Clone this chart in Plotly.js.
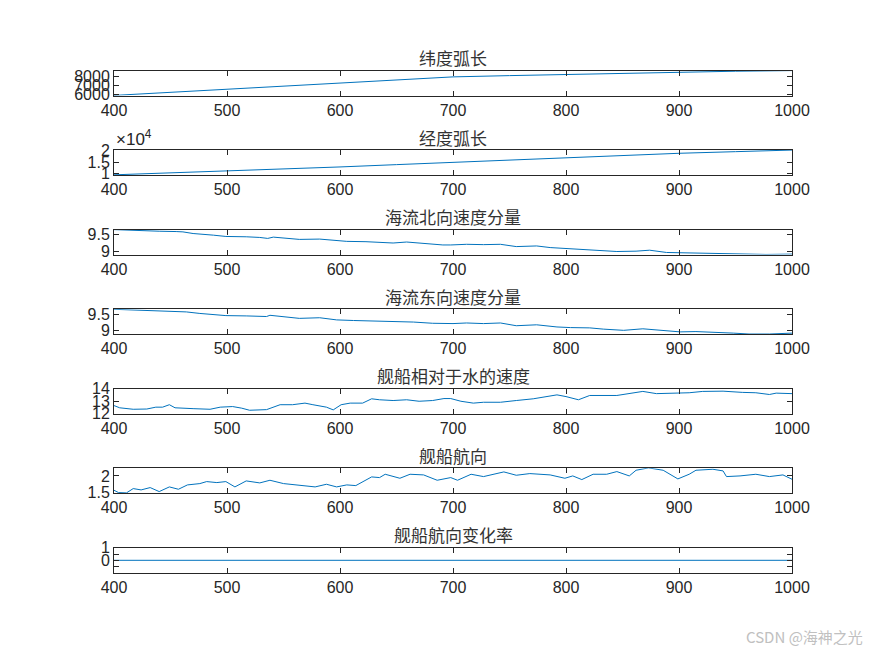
<!DOCTYPE html>
<html>
<head>
<meta charset="utf-8">
<script src="https://cdn.plot.ly/plotly-2.35.2.min.js"></script>
<style>html,body{margin:0;padding:0;background:#fff;}#chart{width:875px;height:656px;}</style>
</head>
<body>
<div id="chart"></div>
<script>
// ---- data ----
const titles = ["纬度弧长", "经度弧长", "海流北向速度分量", "海流东向速度分量", "舰船相对于水的速度", "舰船航向", "舰船航向变化率"];

const latX = [400, 450, 500, 550, 600, 620, 650, 700, 750, 800, 850, 900, 950, 1000];
const latY = [5890, 6230, 6580, 6950, 7300, 7450, 7650, 7920, 8060, 8200, 8330, 8460, 8540, 8610];

const lonX = [400, 450, 500, 550, 600, 650, 700, 750, 800, 850, 900, 950, 1000];
const lonY = [9600, 10400, 11200, 12100, 13000, 14000, 15000, 16100, 17100, 18000, 18900, 19600, 20300];

const northX = [400, 411, 426, 440, 455, 461, 470, 479, 488, 499, 508, 517, 529, 536, 541, 553, 564, 582, 597, 606, 623, 635, 647, 659, 670, 679, 691, 698, 712, 727, 742, 756, 774, 786, 800, 815, 827, 845, 862, 874, 889, 904, 921, 939, 956, 977, 1000];
const northY = [9.66, 9.64, 9.62, 9.61, 9.60, 9.59, 9.54, 9.52, 9.49, 9.45, 9.45, 9.44, 9.42, 9.39, 9.43, 9.40, 9.36, 9.37, 9.32, 9.30, 9.29, 9.27, 9.25, 9.28, 9.25, 9.21, 9.19, 9.19, 9.21, 9.20, 9.21, 9.14, 9.16, 9.11, 9.08, 9.07, 9.03, 8.99, 9.00, 9.03, 8.96, 8.95, 8.94, 8.93, 8.90, 8.90, 8.91];

const eastX = [400, 426, 455, 464, 476, 488, 499, 517, 535, 538, 547, 564, 582, 597, 612, 635, 647, 665, 682, 700, 712, 727, 742, 756, 774, 792, 804, 821, 833, 851, 868, 886, 901, 915, 933, 948, 962, 980, 1000];
const eastY = [9.675, 9.65, 9.62, 9.59, 9.54, 9.51, 9.47, 9.46, 9.44, 9.48, 9.45, 9.38, 9.40, 9.33, 9.31, 9.29, 9.26, 9.26, 9.22, 9.21, 9.23, 9.21, 9.23, 9.14, 9.17, 9.10, 9.08, 9.07, 9.03, 8.99, 9.04, 8.98, 8.94, 8.95, 8.93, 8.90, 8.87, 8.87, 8.90];

const speedX = [400, 405, 417, 429, 437, 443, 449, 454, 470, 485, 494, 505, 513, 520, 535, 547, 558, 569, 576, 588, 594, 601, 609, 620, 628, 635, 647, 659, 670, 682, 692, 698, 707, 718, 727, 742, 756, 771, 792, 800, 811, 821, 845, 868, 880, 898, 909, 921, 939, 956, 968, 980, 986, 1000];
const speedY = [12.63, 12.45, 12.33, 12.35, 12.50, 12.50, 12.70, 12.45, 12.38, 12.33, 12.50, 12.55, 12.42, 12.25, 12.30, 12.70, 12.70, 12.83, 12.70, 12.50, 12.28, 12.70, 12.83, 12.83, 13.18, 13.10, 13.04, 13.10, 12.98, 13.04, 13.20, 13.20, 12.98, 12.83, 12.90, 12.90, 13.04, 13.18, 13.50, 13.36, 13.10, 13.45, 13.45, 13.78, 13.60, 13.67, 13.67, 13.78, 13.80, 13.70, 13.67, 13.53, 13.64, 13.60];

const headX = [400, 404, 411, 417, 424, 432, 440, 449, 457, 465, 476, 482, 491, 499, 507, 517, 529, 538, 550, 564, 578, 588, 597, 606, 614, 628, 635, 640, 653, 662, 674, 686, 698, 704, 716, 727, 745, 756, 768, 777, 786, 799, 806, 814, 824, 836, 845, 856, 862, 873, 886, 899, 909, 915, 930, 939, 942, 954, 968, 980, 992, 1000];
const headY = [1.57, 1.50, 1.49, 1.62, 1.58, 1.65, 1.53, 1.67, 1.60, 1.73, 1.77, 1.83, 1.80, 1.83, 1.67, 1.85, 1.79, 1.87, 1.77, 1.73, 1.67, 1.75, 1.67, 1.73, 1.71, 1.97, 1.95, 2.05, 1.93, 2.05, 2.03, 1.87, 1.95, 1.87, 2.05, 1.98, 2.12, 2.02, 2.07, 2.05, 2.03, 1.93, 2.00, 1.89, 2.05, 2.05, 2.13, 2.00, 2.17, 2.24, 2.17, 1.91, 2.05, 2.17, 2.20, 2.15, 1.98, 2.00, 2.05, 1.98, 2.03, 1.90];

const rateX = [400, 1000];
const rateY = [0, 0];

const xTicks = [400, 500, 600, 700, 800, 900, 1000];

const series = [[latX, latY], [lonX, lonY], [northX, northY], [eastX, eastY], [speedX, speedY], [headX, headY], [rateX, rateY]];
const yRanges = [[5880, 8620], [9500, 20300], [8.895, 9.66], [8.866, 9.68], [11.97, 14.0], [1.48, 2.23], [-1, 1]];
const yTickVals = [[6000, 7000, 8000], [10000, 15000, 20000], [9, 9.5], [9, 9.5], [12, 13, 14], [1.5, 2], [0, 1]];
const yTickText = [["6000", "7000", "8000"], ["1", "1.5", "2"], ["9", "9.5"], ["9", "9.5"], ["12", "13", "14"], ["1.5", "2"], ["0", "1"]];
const rateMinorTicks = [-0.5, 0.5];

// ---- layout ----
const H = 656;
const axCol = '#262626';
const tickFont = {family: 'Liberation Sans, Arial, sans-serif', size: 16, color: axCol};
const traces = [];
const layout = {
  width: 875, height: 656,
  margin: {l: 114, r: 83, t: 0, b: 0},
  paper_bgcolor: '#fff', plot_bgcolor: '#fff',
  showlegend: false,
  annotations: []
};
for (let i = 0; i < 7; i++) {
  const top = 70.5 + 79.55 * i;
  const bot = top + 25;
  const sfx = i === 0 ? '' : String(i + 1);
  traces.push({
    x: series[i][0], y: series[i][1], type: 'scatter', mode: 'lines',
    line: {color: '#0072BD', width: 1},
    xaxis: 'x' + sfx, yaxis: 'y' + sfx, hoverinfo: 'skip'
  });
  layout['xaxis' + sfx] = {
    domain: [0, 1], anchor: 'y' + sfx, range: [400, 1000],
    tickvals: xTicks, ticktext: xTicks.map(String),
    ticks: 'inside', ticklen: 5, tickwidth: 1, tickcolor: axCol,
    showline: true, linecolor: axCol, linewidth: 1, mirror: 'allticks',
    showgrid: false, zeroline: false, tickfont: tickFont
  };
  const ya = {
    domain: [1 - bot / H, 1 - top / H], anchor: 'x' + sfx, range: yRanges[i],
    tickvals: yTickVals[i], ticktext: yTickText[i],
    ticks: 'inside', ticklen: 5, tickwidth: 1, tickcolor: axCol,
    showline: true, linecolor: axCol, linewidth: 1, mirror: 'allticks',
    showgrid: false, zeroline: false, tickfont: tickFont
  };
  if (i === 6) {
    ya.minor = {tickmode: 'array', tickvals: rateMinorTicks, ticks: 'inside', ticklen: 5, tickwidth: 1, tickcolor: axCol, showgrid: false};
  }
  layout['yaxis' + sfx] = ya;
  layout.annotations.push({
    text: titles[i], xref: 'paper', yref: 'paper', x: 0.5, y: 1 - (top - 13) / H,
    xanchor: 'center', yanchor: 'middle', showarrow: false,
    font: {family: 'Noto Sans CJK SC, sans-serif', size: 17, color: '#333333'}
  });
}
layout.annotations.push({
  text: '×10<sup>4</sup>', xref: 'paper', yref: 'paper', x: 0, y: 1 - 138 / H,
  xanchor: 'left', yanchor: 'middle', showarrow: false,
  font: {family: 'Liberation Sans, Arial, sans-serif', size: 17, color: axCol}
});
layout.annotations.push({
  text: 'CSDN @海神之光', xref: 'paper', yref: 'paper', x: 1.107, y: 1 - 636 / H,
  xanchor: 'right', yanchor: 'middle', showarrow: false,
  font: {family: 'Noto Sans CJK SC, sans-serif', size: 15, color: '#c0c0c0'}
});

Plotly.newPlot('chart', traces, layout, {staticPlot: true, displayModeBar: false});
</script>
</body>
</html>
